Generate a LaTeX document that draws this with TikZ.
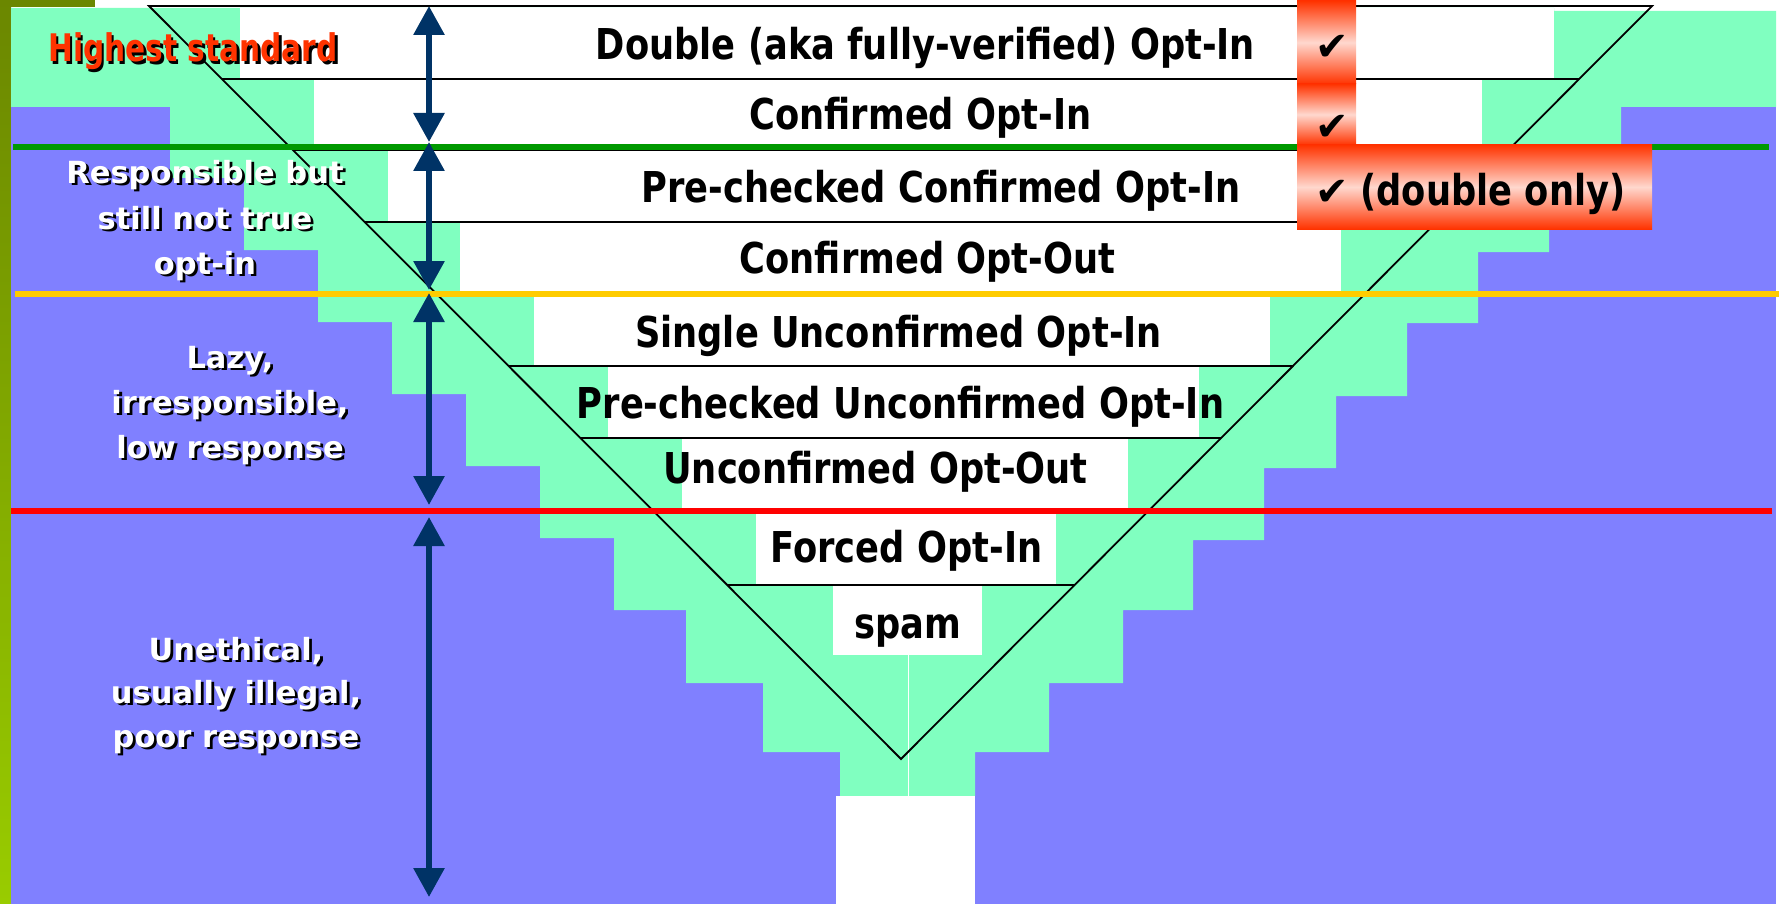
\documentclass[tikz,border=0pt]{standalone}
\usepackage{fontspec}
\usetikzlibrary{arrows.meta,calc}
\newfontfamily\rowfont[FakeStretch=0.83]{DejaVu Sans}
\newfontfamily\hifont[FakeStretch=0.78]{DejaVu Sans}
\newfontfamily\lblfont{DejaVu Sans}
\definecolor{mint}{RGB}{128,255,192}
\definecolor{lilac}{RGB}{128,128,255}
\definecolor{navy}{RGB}{0,51,102}
\definecolor{barTop}{RGB}{107,135,0}
\definecolor{barBot}{RGB}{153,204,0}
\definecolor{lgreen}{RGB}{0,153,0}
\definecolor{lyellow}{RGB}{255,204,0}
\definecolor{lred}{RGB}{255,0,0}
\definecolor{chkred}{RGB}{255,51,0}
\definecolor{chkpale}{RGB}{255,216,206}
\definecolor{hired}{RGB}{255,51,0}
\tikzset{
  rule/.style={draw=black, line width=1.8pt},
  band/.style={line width=5.5pt},
  spanarrow/.style={draw=navy, line width=6pt,
    {Triangle[width=30pt,length=29pt]}-{Triangle[width=30pt,length=29pt]}},
  chkcell/.style={top color=chkred, bottom color=chkred, middle color=chkpale},
  rowtext/.style={anchor=base, inner sep=0pt,
    font=\rowfont\bfseries\fontsize{42.5}{50}\selectfont},
  chk/.style={anchor=base, inner sep=0pt, font=\lblfont\bfseries\fontsize{40}{46}\selectfont},
  lbl/.style={anchor=base, inner sep=0pt, text=white,
    font=\lblfont\bfseries\fontsize{30.5}{36}\selectfont},
  lblshadow/.style={lbl, text=black},
  hilbl/.style={anchor=base, inner sep=0pt, text=hired,
    font=\hifont\bfseries\fontsize{38}{44}\selectfont},
  hishadow/.style={hilbl, text=black},
}
% label with a dark drop shadow
\newcommand{\shadowlbl}[3]{%
  \node[lblshadow] (#1s) at ($#2+(2.8,2.8)$) {#3};
  \node[lbl] (#1) at #2 {#3};}
\begin{document}
\begin{tikzpicture}[x=1pt, y=-1pt]
\useasboundingbox (0,0) rectangle (1779,904);
\fill[white] (0,0) rectangle (1779,904);
% left bar and background
\fill[top color=barTop, bottom color=barBot] (0,0) rectangle (11,904);
\fill[barTop] (0,0) rectangle (95,7);
\fill[lilac] (11,106) rectangle (1776,904);
% stepped funnel
\fill[mint] (11,8) -- (1554,8) -- (1554,11) -- (1776,11) -- (1776,107)
  -- (1621,107) -- (1621,180) -- (1549,180) -- (1549,252) -- (1478,252)
  -- (1478,323) -- (1407,323) -- (1407,396) -- (1336,396) -- (1336,468)
  -- (1264,468) -- (1264,540) -- (1193,540) -- (1193,610) -- (1123,610)
  -- (1123,683) -- (1049,683) -- (1049,752) -- (975,752) -- (975,796)
  -- (840,796) -- (840,752) -- (763,752) -- (763,683) -- (686,683)
  -- (686,610) -- (614,610) -- (614,538) -- (540,538) -- (540,466)
  -- (466,466) -- (466,394) -- (392,394) -- (392,322) -- (318,322)
  -- (318,250) -- (244,250) -- (244,178) -- (170,178) -- (170,107)
  -- (11,107) -- cycle;
\foreach \xa/\ya/\xb/\yb in {240/8/1554/79, 314/79/1482/150, 388/150/1420/222,
    460/222/1341/294, 534/296/1270/366, 608/366/1199/438, 682/438/1128/509,
    756/513/1056/585, 833/586/982/655, 836/796/975/904}
  \fill[white] (\xa,\ya) rectangle (\xb,\yb);
\draw[white, line width=1pt] (908,655) -- (908,796);
% triangle and row rules
\coordinate (tl) at (149,6);
\coordinate (tr) at (1652,6);
\coordinate (tip) at (901,759);
\draw[rule] (tl) -- (tr) -- (tip) -- cycle;
\foreach \yy in {79,150,222,294,366,438,510,585}
  \draw[rule] ($(tl)!{(\yy-6)/753}!(tip)$) -- ($(tr)!{(\yy-6)/753}!(tip)$);
% level lines
\draw[band, lgreen] (13,147) -- (1769,147);
\draw[band, lyellow] (15,294) -- (1779,294);
\draw[band, lred] (11,511) -- (1772,511);
% check cells
\path[chkcell] (1297,1) rectangle (1356,84);
\path[chkcell] (1297,84) rectangle (1356,145);
\path[chkcell] (1297,145) rectangle (1652,229);
% span arrows
\coordinate (a0) at (429,6);
\coordinate (a1) at (429,142);
\coordinate (a2) at (429,290);
\coordinate (a3) at (429,293);
\coordinate (a4) at (429,505);
\coordinate (a5) at (429,517);
\coordinate (a6) at (429,897);
\draw[spanarrow] (a0) -- (a1);
\draw[spanarrow] (a1) -- (a2);
\draw[spanarrow] (a3) -- (a4);
\draw[spanarrow] (a5) -- (a6);
% rows
\node[rowtext] (dbl) at (925.5,60) {Double (aka fully-verified) Opt-In};
\node[rowtext] (conf) at (920.5,130) {Confirmed Opt-In};
\node[rowtext] (pcconf) at (941,202) {Pre-checked Confirmed Opt-In};
\node[rowtext] (confout) at (927.5,273) {Confirmed Opt-Out};
\node[rowtext] (single) at (898.5,347) {Single Unconfirmed Opt-In};
\node[rowtext] (pcunconf) at (900.5,418) {Pre-checked Unconfirmed Opt-In};
\node[rowtext] (unconfout) at (875.5,483) {Unconfirmed Opt-Out};
\node[rowtext] (forced) at (906.5,562) {Forced Opt-In};
\node[rowtext] (spam) at (907.5,638) {spam};
% checks
\node[chk] (chkA) at (1332,61) {✔};
\node[chk] (chkB) at (1332,141) {✔};
\node[chk] (chkC) at (1332,205) {✔};
\node[rowtext] (dblonly) at (1493,205) {(double only)};
% side labels
\node[hishadow] (highs) at (195.5,64.5) {Highest standard};
\node[hilbl] (high) at (193,62) {Highest standard};
\shadowlbl{respA}{(205,183)}{Responsible but}
\shadowlbl{respB}{(205,229)}{still not true}
\shadowlbl{respC}{(205,274)}{opt-in}
\shadowlbl{lazyA}{(230,368)}{Lazy,}
\shadowlbl{lazyB}{(230,413)}{irresponsible,}
\shadowlbl{lazyC}{(230,458)}{low response}
\shadowlbl{unethA}{(236,660)}{Unethical,}
\shadowlbl{unethB}{(236,703)}{usually illegal,}
\shadowlbl{unethC}{(236,747)}{poor response}
\end{tikzpicture}
\end{document}
